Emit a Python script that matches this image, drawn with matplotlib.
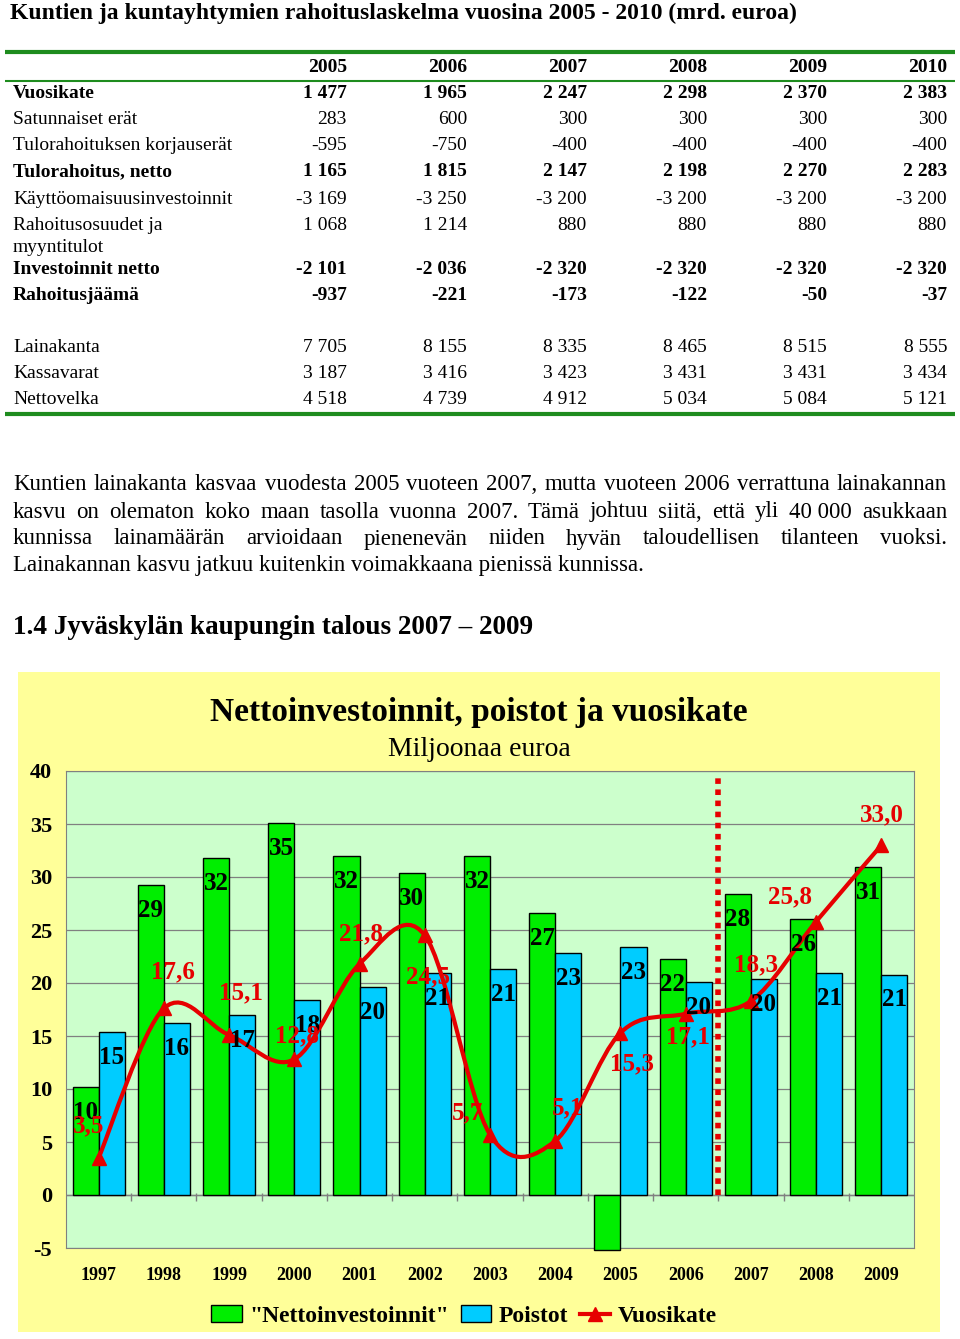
import numpy as np
import matplotlib
matplotlib.use('Agg')
import matplotlib.pyplot as plt
from matplotlib.path import Path
from matplotlib.patches import PathPatch, Patch, Rectangle
from matplotlib.lines import Line2D

plt.rcParams['font.family'] = ['Liberation Serif', 'DejaVu Serif']
plt.rcParams['axes.unicode_minus'] = False

# --- table data (mrd. euroa) ---
table_years = [2005, 2006, 2007, 2008, 2009, 2010]
table_labels = ['Vuosikate', 'Satunnaiset erät', 'Tulorahoituksen korjauserät',
                'Tulorahoitus, netto', 'Käyttöomaisuusinvestoinnit',
                'Rahoitusosuudet ja\nmyyntitulot', 'Investoinnit netto', 'Rahoitusjäämä',
                'Lainakanta', 'Kassavarat', 'Nettovelka']
table_bold = [True, False, False, True, False, False, True, True, False, False, False]
table_values = [
    [1477, 1965, 2247, 2298, 2370, 2383],
    [283, 600, 300, 300, 300, 300],
    [-595, -750, -400, -400, -400, -400],
    [1165, 1815, 2147, 2198, 2270, 2283],
    [-3169, -3250, -3200, -3200, -3200, -3200],
    [1068, 1214, 880, 880, 880, 880],
    [-2101, -2036, -2320, -2320, -2320, -2320],
    [-937, -221, -173, -122, -50, -37],
    [7705, 8155, 8335, 8465, 8515, 8555],
    [3187, 3416, 3423, 3431, 3431, 3434],
    [4518, 4739, 4912, 5034, 5084, 5121],
]

paragraph = [
    "Kuntien lainakanta kasvaa vuodesta 2005 vuoteen 2007, mutta vuoteen 2006 verrattuna lainakannan",
    "kasvu on olematon koko maan tasolla vuonna 2007. Tämä johtuu siitä, että yli 40\u00a0000 asukkaan",
    "kunnissa lainamäärän arvioidaan pienenevän niiden hyvän taloudellisen tilanteen vuoksi.",
    "Lainakannan kasvu jatkuu kuitenkin voimakkaana pienissä kunnissa.",
]

# --- chart data (miljoonaa euroa) ---
chart_years = [1997, 1998, 1999, 2000, 2001, 2002, 2003, 2004, 2005, 2006, 2007, 2008, 2009]
nettoinvestoinnit = [10.2, 29.2, 31.8, 35.1, 32.0, 30.4, 32.0, 26.6, -5.2, 22.3, 28.4, 26.0, 30.9]
poistot = [15.4, 16.2, 17.0, 18.4, 19.6, 20.9, 21.3, 22.8, 23.4, 20.1, 20.4, 20.9, 20.8]
vuosikate = [3.5, 17.6, 15.1, 12.8, 21.8, 24.5, 5.7, 5.1, 15.3, 17.1, 18.3, 25.8, 33.0]

GREEN = '#00EE00'
BLUE = '#00CCFF'
RED = '#E60000'
LINE_GREEN = '#1E8C1E'

fig = plt.figure(figsize=(9.6, 13.39), dpi=100)
page = fig.add_axes([0, 0, 1, 1])
page.set_xlim(0, 960)
page.set_ylim(1339, 0)
page.axis('off')
renderer = fig.canvas.get_renderer()

# title and table
page.text(10, 13, "Kuntien ja kuntayhtymien rahoituslaskelma vuosina 2005 - 2010 (mrd. euroa)",
          fontsize=17, fontweight='bold', va='center')
page.hlines(52, 5, 955, color=LINE_GREEN, lw=3)
page.hlines(81, 5, 955, color=LINE_GREEN, lw=1.5)
page.hlines(414, 5, 955, color=LINE_GREEN, lw=3)

col_right = [347, 467, 587, 707, 827, 947]
row_y = [94, 120, 146, 172, 199, 225, 269, 296, 348, 374, 400]
for x, yr in zip(col_right, table_years):
    page.text(x, 67, str(yr), fontsize=14, fontweight='bold', ha='right', va='center')
for lab, bold, vals, y in zip(table_labels, table_bold, table_values, row_y):
    w = 'bold' if bold else 'normal'
    for k, part in enumerate(lab.split('\n')):
        page.text(13, y + k * 22, part, fontsize=14, fontweight=w, va='center')
    for x, v in zip(col_right, vals):
        page.text(x, y, f"{v:,}".replace(',', ' '), fontsize=14, fontweight=w,
                  ha='right', va='center')


def justify(line, y, x0, x1, size):
    words = line.split(' ')
    texts = [page.text(0, y, w, fontsize=size, va='center') for w in words]
    widths = [t.get_window_extent(renderer).width for t in texts]
    gap = (x1 - x0 - sum(widths)) / (len(words) - 1)
    x = x0
    for t, wd in zip(texts, widths):
        t.set_x(x)
        x += wd + gap


para_y = [485, 512, 539, 566]
for i, (line, y) in enumerate(zip(paragraph, para_y)):
    if i < len(paragraph) - 1:
        justify(line, y, 13, 947, 16.5)
    else:
        page.text(13, y, line, fontsize=16.5, va='center')

page.text(13, 627, "1.4 Jyväskylän kaupungin talous 2007 \u2013 2009", fontsize=19.5,
          fontweight='bold', va='center')

# chart background and titles
page.add_patch(Rectangle((18, 672), 922, 660, facecolor='#FFFF99', edgecolor='none', zorder=0))
page.text(479, 713, "Nettoinvestoinnit, poistot ja vuosikate", fontsize=24, fontweight='bold',
          ha='center', va='center')
page.text(479, 750, "Miljoonaa euroa", fontsize=20, ha='center', va='center')

ax = fig.add_axes([66 / 960, (1339 - 1248) / 1339, 848 / 960, 477 / 1339])
ax.set_facecolor('#CCFFCC')
x = np.arange(len(chart_years))
ax.set_xlim(-0.5, len(chart_years) - 0.5)
ax.set_ylim(-5, 40)
ax.set_yticks(range(-5, 41, 5))
ax.set_xticks(x)
ax.set_xticklabels([str(y) for y in chart_years])
ax.tick_params(axis='y', length=0, labelsize=16, pad=10)
ax.tick_params(axis='x', length=0, labelsize=13, pad=14)
for lbl in ax.get_xticklabels() + ax.get_yticklabels():
    lbl.set_fontweight('bold')
ax.yaxis.grid(True, color='#808080', lw=0.9)
ax.set_axisbelow(True)
for s in ax.spines.values():
    s.set_color('#808080')

bw = 0.4
gb = ax.bar(x - bw / 2, nettoinvestoinnit, bw, color=GREEN, edgecolor='black', lw=1,
            zorder=3, clip_on=False)
bb = ax.bar(x + bw / 2, poistot, bw, color=BLUE, edgecolor='black', lw=1, zorder=3)
ax.axhline(0, color='#808080', lw=1, zorder=2)
ax.vlines(np.arange(0.5, len(chart_years) - 1, 1), -0.6, 0.2, color='#808080', lw=1, zorder=2)

for rect, v in zip(list(gb) + list(bb), nettoinvestoinnit + poistot):
    if v <= 0:
        continue
    ax.annotate(f"{v:.0f}", (rect.get_x() + rect.get_width() / 2, v), xytext=(0, -10),
                textcoords='offset points', ha='center', va='top', fontsize=18,
                fontweight='bold', zorder=6)

# forecast divider
ax.plot([9.5, 9.5], [0, 39.4], color=RED, lw=4, dashes=(1, 1), solid_capstyle='butt',
        zorder=4)

# smoothed vuosikate line
pts = np.column_stack([x, vuosikate]).astype(float)
n = len(pts)
verts, codes = [pts[0]], [Path.MOVETO]
for i in range(n - 1):
    p0, p1, p2, p3 = pts[max(i - 1, 0)], pts[i], pts[i + 1], pts[min(i + 2, n - 1)]
    verts += [p1 + (p2 - p0) / 6, p2 - (p3 - p1) / 6, p2]
    codes += [Path.CURVE4] * 3
ax.add_patch(PathPatch(Path(verts, codes), facecolor='none', edgecolor=RED, lw=3, zorder=5))
ax.plot(x, vuosikate, ls='none', marker='^', markersize=10, color=RED, zorder=5)

label_off = [(-10, -32), (9, -37), (12, -42), (3, -24), (1, -30), (3, 42), (-22, -22),
             (12, -33), (11, 31), (2, 23), (5, -36), (-26, -25), (0, -30)]
for xi, v, (dx, dy) in zip(x, vuosikate, label_off):
    ax.annotate(f"{v:.1f}".replace('.', ','), (xi, v), xytext=(dx * 0.72, -dy * 0.72),
                textcoords='offset points', ha='center', va='center', fontsize=18,
                fontweight='bold', color=RED, zorder=7)

handles = [Patch(facecolor=GREEN, edgecolor='black'), Patch(facecolor=BLUE, edgecolor='black'),
           Line2D([], [], color=RED, lw=3, marker='^', markersize=10)]
fig.legend(handles, ['"Nettoinvestoinnit"', 'Poistot', 'Vuosikate'], loc='center',
           bbox_to_anchor=(464 / 960, 1 - 1316 / 1339), ncol=3, frameon=False,
           prop={'weight': 'bold', 'size': 17}, handlelength=1.3, handletextpad=0.3,
           columnspacing=0.5)

fig.savefig('out.png', dpi=100)
